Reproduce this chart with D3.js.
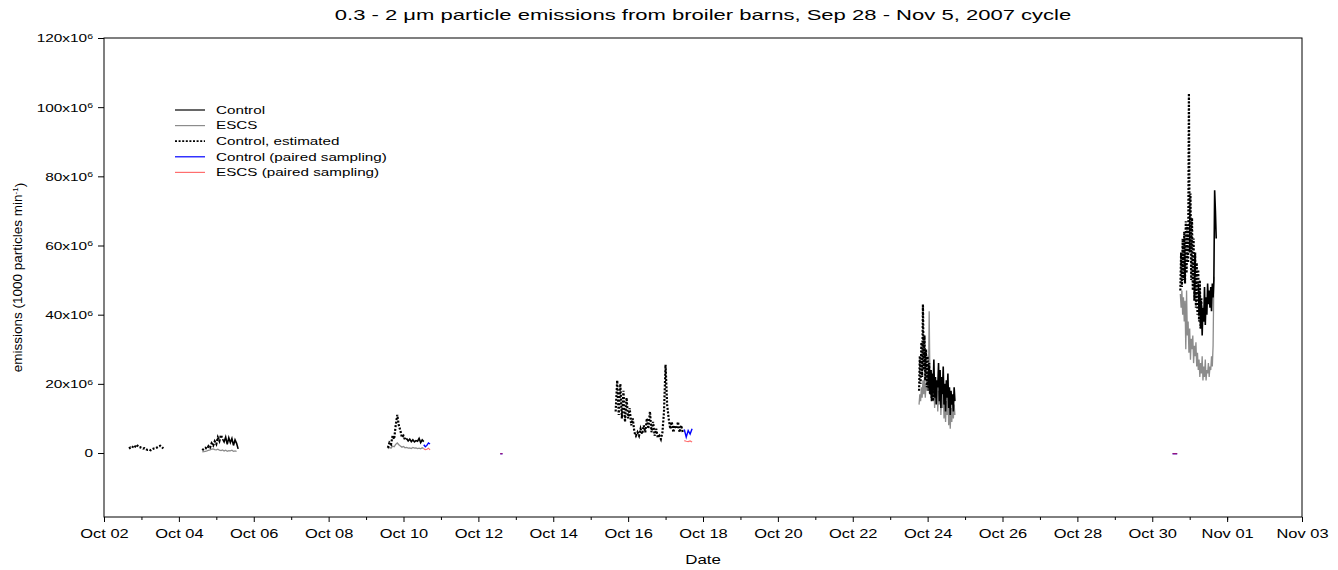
<!DOCTYPE html>
<html>
<head>
<meta charset="utf-8">
<script src="https://cdn.jsdelivr.net/npm/d3@7"></script>
<style>
  body { margin: 0; background: #fff; }
  text { font-family: Arial, "Liberation Sans", sans-serif; fill: #000; }
</style>
</head>
<body>
<svg id="chart" width="1338" height="570"></svg>
<script>
// tick labels
var xTickDates = ["2007-10-02","2007-10-04","2007-10-06","2007-10-08","2007-10-10","2007-10-12",
    "2007-10-14","2007-10-16","2007-10-18","2007-10-20","2007-10-22","2007-10-24",
    "2007-10-26","2007-10-28","2007-10-30","2007-11-01","2007-11-03"];
var yTicks = [0, 20e6, 40e6, 60e6, 80e6, 100e6, 120e6];

// series values, in millions (1000 particles/min)
// Control, estimated (dotted)
var estOct02 = [1.3,1.6,1.5,2.2,1.9,2.4,1.8,1.7,1.5,1.3,1.4,1.1,0.9,1.0,0.8,1.1,1.3,1.4,1.6,1.9,2.1,1.8,1.3];
var estOct04 = [0.8,1.2,1.5,1.2,2.0,1.6,2.8,2.2,3.4,2.6,4.5,3.5,5.2,4.0];
var estOct09 = [1.5,3.0,2.5,5.0,4.0,8.0,11.0,8.0,6.5,4.5,5.0,3.8,4.2];
var estOct15 = [12,21,11,20,10,18,9,16,10,13,8,10,6,5,6,5,7,5.5,8,6,10,7,12,6,9,5,7,4.5,5,4,6,12,25.5,14,10,7,9,6,8,7,9,6,8,6];
var estOct23 = [18,28,20,32,22,43,24,34,21,30,19,28,18,26,17,24,16,22,15,21,17];
var estOct30 = [47,58,48,62,50,64,49,67,52,66,55,104,58,75,50,68,47,62,44,58,42,55,40,53,38,50,36,45];
// Control (solid)
var ctrlOct05 = [4.0,3.2,4.6,2.5,4.4,3.0,4.2,2.2,3.8,2.8,1.2];
var ctrlOct10 = [4.2,3.5,4.0,3.3,3.8,3.2,3.6,3.4,4.2,3.0,3.8,3.3];
var ctrlOct24 = [20,25,17,24,15,23,18,27,16,22,14,21,19,26,15,24,13,22,17,25,14,20,12,21,16,23,13,19,11,18,14,17,12,19,15];
var ctrlOct31 = [49,40,47,36,44,34,42,38,48,37,45,40,49,43,47,42,48,41,49,45,50,76,70,62];
// ESCS (grey)
var escsOct04 = [0.3,0.4,0.5,0.6,0.8,0.9,1.1,1.2,1.0,0.9,1.1,0.8,0.7,0.9,0.6,0.8,0.5,0.7,0.6,0.8,0.5,0.6,0.5];
var escsOct09 = [1.2,1.6,1.4,2.0,1.8,2.5,2.9,2.4,2.0,1.7,1.9,1.5,1.6,1.4,1.5,1.3,1.6,1.4,1.5,1.3,1.4,1.2,1.5,1.3];
var escsOct23 = [14,17,15,19,16,21,17,22,16,20,18,23,19,41,20,24,17,21,15,19,13,22,16,20,12,18,14,21,11,17,13,19,10,16,9,15,11,18,8,14,7,13,9,15,10,14,11];
var escsOct30 = [46,42,47,40,45,38,44,30,47,34,38,29,36,27,33,30,34,26,31,28,32,25,29,24,27,22,26,23,28,21,25,22,27,21,24,23,26,22,25,24,28,25,31,51];
// paired sampling
var pairCtrlOct10 = [2.4,1.8,2.2,2.9,2.6];
var pairEscsOct10 = [1.2,1.0,1.1,1.4,0.9];
var pairCtrlOct12 = [-0.2,-0.2];
var pairEscsOct12 = [-0.2,-0.2];
var pairCtrlOct17 = [6.8,4.6,6.5,5.5,7.0];
var pairEscsOct17 = [3.6,3.4,3.3,3.5,3.2];
var pairCtrlOct30 = [-0.2,-0.2,-0.2];
var pairEscsOct30 = [-0.2,-0.2,-0.2];

// segment start times and sampling step (minutes)
var segments = [
    {series: "escs", start: "2007-10-04 15:00", step: 60, values: escsOct04},
    {series: "escs", start: "2007-10-09 14:00", step: 60, values: escsOct09},
    {series: "escs", start: "2007-10-23 18:30", step: 30, values: escsOct23},
    {series: "escs", start: "2007-10-30 18:00", step: 30, values: escsOct30},
    {series: "ctrl", start: "2007-10-05 04:00", step: 60, values: ctrlOct05},
    {series: "ctrl", start: "2007-10-10 02:00", step: 60, values: ctrlOct10},
    {series: "ctrl", start: "2007-10-24 00:30", step: 30, values: ctrlOct24},
    {series: "ctrl", start: "2007-10-31 05:30", step: 30, values: ctrlOct31},
    {series: "est", start: "2007-10-02 16:00", step: 60, values: estOct02},
    {series: "est", start: "2007-10-04 15:00", step: 60, values: estOct04},
    {series: "est", start: "2007-10-09 14:00", step: 60, values: estOct09},
    {series: "est", start: "2007-10-15 16:00", step: 60, values: estOct15},
    {series: "est", start: "2007-10-23 18:30", step: 30, values: estOct23},
    {series: "est", start: "2007-10-30 18:00", step: 30, values: estOct30},
    {series: "pairCtrl", start: "2007-10-10 13:00", step: 60, values: pairCtrlOct10},
    {series: "pairCtrl", start: "2007-10-12 14:00", step: 90, values: pairCtrlOct12},
    {series: "pairCtrl", start: "2007-10-17 12:00", step: 75, values: pairCtrlOct17},
    {series: "pairCtrl", start: "2007-10-30 13:00", step: 90, values: pairCtrlOct30},
    {series: "pairEscs", start: "2007-10-10 13:00", step: 60, values: pairEscsOct10},
    {series: "pairEscs", start: "2007-10-12 14:00", step: 90, values: pairEscsOct12},
    {series: "pairEscs", start: "2007-10-17 12:00", step: 75, values: pairEscsOct17},
    {series: "pairEscs", start: "2007-10-30 13:00", step: 90, values: pairEscsOct30}
];

var legendItems = [
    {series: "ctrl", label: "Control"},
    {series: "escs", label: "ESCS"},
    {series: "est", label: "Control, estimated"},
    {series: "pairCtrl", label: "Control (paired sampling)"},
    {series: "pairEscs", label: "ESCS (paired sampling)"}
];

var styles = {
    ctrl: {stroke: "#000", width: 1.6, dash: null, opacity: 1},
    escs: {stroke: "#8c8c8c", width: 1.3, dash: null, opacity: 1},
    est: {stroke: "#000", width: 2.2, dash: "2,1.6", opacity: 1},
    pairCtrl: {stroke: "#0000ff", width: 1.4, dash: null, opacity: 1},
    pairEscs: {stroke: "#ff2020", width: 1.2, dash: null, opacity: 0.65}
};

// the reference text is drawn wider than plain Arial
var stretchX = 1.4;

var svg = d3.select("#chart");
var margin = {left: 104, right: 1302, top: 38, bottom: 517};

var parseTime = d3.timeParse("%Y-%m-%d %H:%M");
var parseDay = d3.timeParse("%Y-%m-%d");

var x = d3.scaleTime()
    .domain([parseDay("2007-10-02"), parseDay("2007-11-03")])
    .range([margin.left, margin.right]);
var y = d3.scaleLinear()
    .domain([-18.5e6, 120e6])
    .range([margin.bottom, margin.top]);

// place a text at (px,py) stretched horizontally
function wideText(parent, px, py, k) {
    return parent.append("g")
        .attr("transform", "translate(" + px + "," + py + ") scale(" + k + ",1)")
        .append("text");
}

// frame
svg.append("rect")
    .attr("x", margin.left).attr("y", margin.top)
    .attr("width", margin.right - margin.left)
    .attr("height", margin.bottom - margin.top)
    .attr("fill", "none").attr("stroke", "#000").attr("stroke-width", 1);

// x axis with major and minor ticks
var majorDates = xTickDates.map(function(s) { return parseDay(s); });
var minorDates = d3.timeDay.range(x.domain()[0], x.domain()[1]).filter(function(d) {
    return d.getDate() % 2 === 1;
});
var xAxis = d3.axisBottom(x).tickValues(majorDates).tickFormat(d3.timeFormat("%b %d")).tickSize(5).tickSizeOuter(0);
var gX = svg.append("g").attr("transform", "translate(0," + margin.bottom + ")").call(xAxis);
gX.select(".domain").remove();
gX.selectAll("text")
    .attr("font-size", 12).attr("y", 10).attr("dy", "0.95em")
    .attr("transform", "scale(1.37,1)")
    .style("font-family", "Arial, 'Liberation Sans', sans-serif");
svg.append("g").attr("transform", "translate(0," + margin.bottom + ")")
    .call(d3.axisBottom(x).tickValues(minorDates).tickFormat("").tickSize(3).tickSizeOuter(0))
    .select(".domain").remove();

// y axis
var yAxis = d3.axisLeft(y).tickValues(yTicks).tickSize(6).tickSizeOuter(0).tickFormat("");
var gY = svg.append("g").attr("transform", "translate(" + margin.left + ",0)").call(yAxis);
gY.select(".domain").remove();
gY.selectAll(".tick").each(function(d) {
    var t = wideText(d3.select(this), -11, 0, stretchX)
        .attr("dy", "0.35em")
        .attr("text-anchor", "end")
        .attr("font-size", 11);
    if (d === 0) {
        t.text("0");
    } else {
        t.append("tspan").text((d / 1e6) + "x10");
        t.append("tspan").attr("dy", "-0.45em").attr("font-size", 7.5).text("6");
    }
});

// data lines
var line = d3.line()
    .x(function(d) { return x(d.t); })
    .y(function(d) { return y(d.v); });

var plot = svg.append("g").attr("class", "traceData");
segments.forEach(function(seg) {
    var t0 = parseTime(seg.start);
    var pts = seg.values.map(function(v, i) {
        return {t: d3.timeMinute.offset(t0, i * seg.step), v: v * 1e6};
    });
    var st = styles[seg.series];
    plot.append("path")
        .datum(pts)
        .attr("d", line)
        .attr("fill", "none")
        .attr("stroke", st.stroke)
        .attr("stroke-width", st.width)
        .attr("stroke-dasharray", st.dash)
        .attr("stroke-opacity", st.opacity)
        .attr("stroke-linejoin", "miter");
});

// legend
var legend = svg.append("g").attr("transform", "translate(175,110)");
legendItems.forEach(function(item, i) {
    var st = styles[item.series];
    var row = legend.append("g").attr("transform", "translate(0," + (i * 15.6) + ")");
    row.append("line")
        .attr("x1", 0).attr("x2", 30).attr("y1", 0).attr("y2", 0)
        .attr("stroke", st.stroke)
        .attr("stroke-width", item.series === "est" ? 1.8 : 1.2)
        .attr("stroke-dasharray", st.dash)
        .attr("stroke-opacity", st.opacity);
    wideText(row, 41, 0, 1.45)
        .attr("dy", "0.36em")
        .attr("font-size", 10.5)
        .text(item.label);
});

// title and axis labels
wideText(svg, (margin.left + margin.right) / 2, 20, 1.47)
    .attr("text-anchor", "middle").attr("font-size", 15)
    .text("0.3 - 2 \u03bcm particle emissions from broiler barns, Sep 28 - Nov 5, 2007 cycle");

wideText(svg, (margin.left + margin.right) / 2, 564, 1.35)
    .attr("text-anchor", "middle").attr("font-size", 12.5)
    .text("Date");

var yl = svg.append("text")
    .attr("transform", "translate(22," + ((margin.top + margin.bottom) / 2) + ") rotate(-90)")
    .attr("text-anchor", "middle").attr("font-size", 13.5);
yl.append("tspan").text("emissions (1000 particles min");
yl.append("tspan").attr("dy", "-0.45em").attr("font-size", 8).text("-1");
yl.append("tspan").attr("dy", "0.45em").text(")");
</script>
</body>
</html>
